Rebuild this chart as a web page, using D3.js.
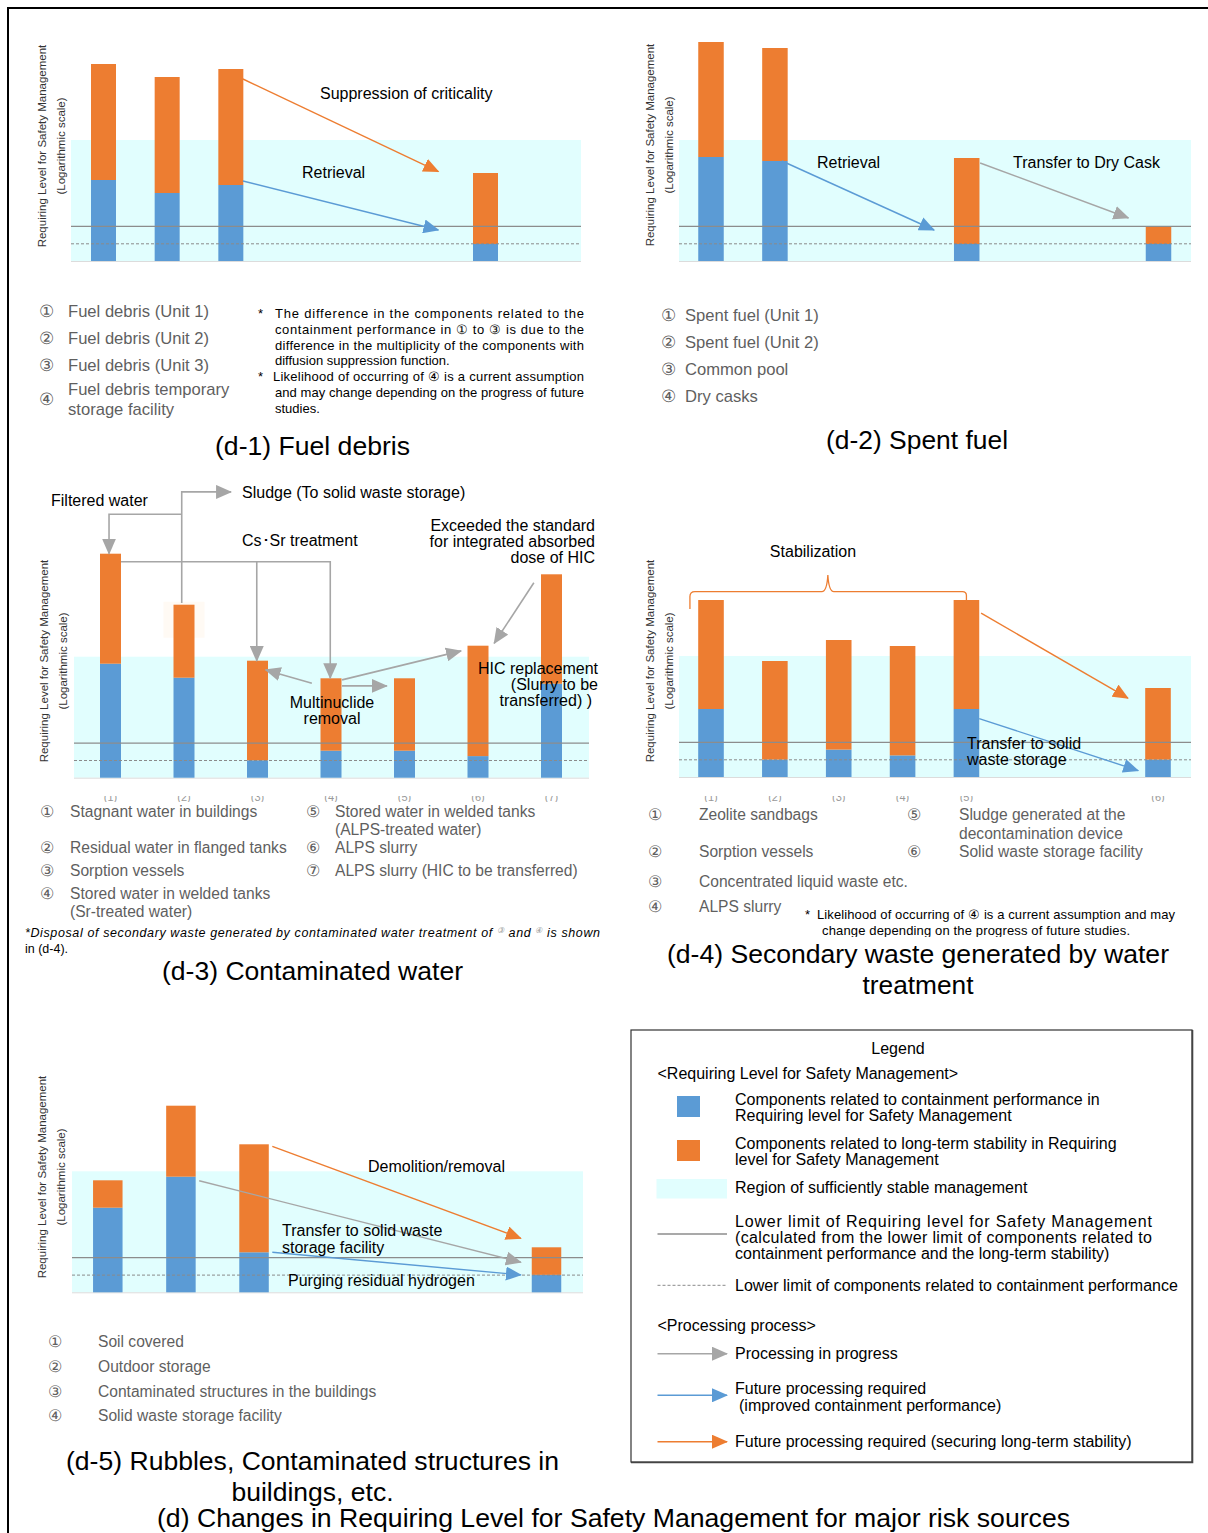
<!DOCTYPE html>
<html><head><meta charset="utf-8">
<script src="https://cdn.jsdelivr.net/npm/d3@7"></script>
<style>
html,body{margin:0;padding:0;background:#fff;}
svg{display:block;}
text{font-family:"Liberation Sans",Arial,sans-serif;}
</style></head><body>
<svg id="c" width="1208" height="1533"></svg>
<script>
// ================= DATA (levels, arbitrary log units) =================
const circledNumbers = ['①','②','③','④','⑤','⑥','⑦'];
const stableRegionTop = 6.05;        // upper edge of "region of sufficiently stable management"
const safetyLowerLimit = 1.73;       // lower limit of requiring level (solid line)
const containmentLowerLimit = 0.86;  // lower limit of containment components (dashed line)

// (d-1) Fuel debris
const d1Categories = ['Fuel debris (Unit 1)', 'Fuel debris (Unit 2)', 'Fuel debris (Unit 3)', 'Fuel debris temporary\nstorage facility'];
const d1Containment = [4.05, 3.4, 3.8, 0.85];
const d1Stability = [5.8, 5.8, 5.8, 3.55];

// (d-2) Spent fuel
const d2Categories = ['Spent fuel (Unit 1)', 'Spent fuel (Unit 2)', 'Common pool', 'Dry casks'];
const d2Containment = [5.2, 5.0, 0.85, 0.85];
const d2Stability = [5.75, 5.65, 4.3, 0.85];

// (d-3) Contaminated water
const d3Categories = ['Stagnant water in buildings', 'Residual water in flanged tanks', 'Sorption vessels',
  'Stored water in welded tanks\n(Sr-treated water)', 'Stored water in welded tanks\n(ALPS-treated water)',
  'ALPS slurry', 'ALPS slurry (HIC to be transferred)'];
const d3Containment = [5.7, 5.0, 0.87, 1.35, 1.35, 1.08, 4.7];
const d3Stability = [5.5, 3.65, 4.98, 3.62, 3.62, 5.52, 5.47];

// (d-4) Secondary waste generated by water treatment
const d4Categories = ['Zeolite sandbags', 'Sorption vessels', 'Concentrated liquid waste etc.', 'ALPS slurry',
  'Sludge generated at the\ndecontamination device', 'Solid waste storage facility'];
const d4Containment = [3.4, 0.87, 1.37, 1.08, 3.4, 0.87];
const d4Stability = [5.45, 4.93, 5.48, 5.47, 5.45, 3.58];

// (d-5) Rubbles, contaminated structures
const d5Categories = ['Soil covered', 'Outdoor storage', 'Contaminated structures in the buildings', 'Solid waste storage facility'];
const d5Containment = [4.23, 5.78, 2.0, 0.87];
const d5Stability = [1.37, 3.55, 5.4, 1.38];

const panelTitles = {
  d1: ['(d-1) Fuel debris'],
  d2: ['(d-2) Spent fuel'],
  d3: ['(d-3) Contaminated water'],
  d4: ['(d-4) Secondary waste generated by water', 'treatment'],
  d5: ['(d-5) Rubbles, Contaminated structures in', 'buildings, etc.']
};
const figureCaption = '(d) Changes in Requiring Level for Safety Management for major risk sources';
const axisLabel = ['Requiring Level for Safety Management', '(Logarithmic scale)'];

// ================= DRAWING =================
const COLORS = {blue:'#5B9BD5', orange:'#ED7D31', grey:'#A6A6A6', cyan:'#E1FEFE', list:'#5f5f5f'};
const svg = d3.select('#c');
const defs = svg.append('defs');
['blue','orange','grey'].forEach(k => {
  defs.append('marker').attr('id','ah-'+k).attr('markerUnits','userSpaceOnUse')
    .attr('viewBox','0 0 16 14').attr('markerWidth',16).attr('markerHeight',14)
    .attr('refX',15).attr('refY',7).attr('orient','auto')
    .append('path').attr('d','M0,0L16,7L0,14Z').attr('fill',COLORS[k]);
});

function txt(g, x, y, s, o = {}) {
  const t = g.append('text').attr('x',x).attr('y',y).attr('dy','0.35em')
    .attr('font-size',o.size || 16).attr('fill',o.fill || '#000')
    .attr('text-anchor',o.anchor || 'start');
  if (o.family) t.attr('font-family',o.family);
  if (o.style) t.attr('font-style',o.style);
  if (o.len) t.attr('textLength',o.len).attr('lengthAdjust',o.adj || 'spacing');
  t.text(s);
  return t;
}

// outer frame
svg.append('line').attr('x1',8).attr('x2',8).attr('y1',7.5).attr('y2',1533).attr('stroke','#000').attr('stroke-width',2);
svg.append('line').attr('x1',7).attr('x2',1208).attr('y1',8).attr('y2',8).attr('stroke','#000').attr('stroke-width',2);

const panels = [
  {id:'d1', cats:d1Categories, blue:d1Containment, orange:d1Stability, slots:[0,1,2,6], nSlots:7, c0:103.5, c1:485.5, bw:25, base:261, bx0:71, bx1:581, labelX:[41.5,61], labelY:146},
  {id:'d2', cats:d2Categories, blue:d2Containment, orange:d2Stability, slots:[0,1,4,7], nSlots:8, c0:711, c1:1158.5, bw:25.5, base:261, bx0:679, bx1:1191, labelX:[650,669], labelY:145},
  {id:'d3', cats:d3Categories, blue:d3Containment, orange:d3Stability, slots:[0,1,2,3,4,5,6], nSlots:7, c0:110.5, c1:551.5, bw:21, base:777.7, bx0:74, bx1:589, labelX:[43.5,63], labelY:661},
  {id:'d4', cats:d4Categories, blue:d4Containment, orange:d4Stability, slots:[0,1,2,3,4,7], nSlots:8, c0:711, c1:1158, bw:25.6, base:777, bx0:679, bx1:1191, labelX:[650,669], labelY:661},
  {id:'d5', cats:d5Categories, blue:d5Containment, orange:d5Stability, slots:[0,1,2,6], nSlots:7, c0:107.8, c1:546.5, bw:29.5, base:1292.3, bx0:72, bx1:583, labelX:[41.5,61], labelY:1177}
];
const P = {};
panels.forEach(p => {
  P[p.id] = p;
  const g = svg.append('g');
  const x = d3.scaleLinear().domain([0, p.nSlots - 1]).range([p.c0, p.c1]);
  const y = d3.scaleLinear().domain([0, 10]).range([p.base, p.base - 200]);
  p.x = x; p.y = y; p.g = g;
  g.append('rect').attr('x',p.bx0).attr('y',y(stableRegionTop)).attr('width',p.bx1 - p.bx0)
    .attr('height',y(0) - y(stableRegionTop)).attr('fill',COLORS.cyan);
  g.append('line').attr('x1',p.bx0).attr('x2',p.bx1).attr('y1',y(0) + 0.5).attr('y2',y(0) + 0.5)
    .attr('stroke','#dcdcdc').attr('stroke-width',1);
  const rows = p.cats.map((c, i) => ({cat:c, slot:p.slots[i], containment:p.blue[i], stability:p.orange[i]}));
  if (p.id === 'd3') {
    // faint glow around the top of bar 2 as in the source image
    const r = rows[1], top = y(r.containment + r.stability);
    g.append('rect').attr('x', x(r.slot) - p.bw / 2 - 10).attr('y', top - 3).attr('width', p.bw + 20).attr('height', 36)
      .attr('fill', '#FFFAF4');
  }
  const stacked = d3.stack().keys(['containment','stability'])(rows);
  g.selectAll('g.layer').data(stacked).join('g').attr('class','layer')
    .attr('fill', d => d.key === 'containment' ? COLORS.blue : COLORS.orange)
    .selectAll('rect').data(d => d).join('rect')
    .attr('x', d => x(d.data.slot) - p.bw / 2).attr('width', p.bw)
    .attr('y', d => y(d[1])).attr('height', d => y(d[0]) - y(d[1]));
  g.append('line').attr('x1',p.bx0).attr('x2',p.bx1).attr('y1',y(safetyLowerLimit)).attr('y2',y(safetyLowerLimit))
    .attr('stroke','#8c8c8c').attr('stroke-width',1.3);
  g.append('line').attr('x1',p.bx0).attr('x2',p.bx1).attr('y1',y(containmentLowerLimit)).attr('y2',y(containmentLowerLimit))
    .attr('stroke','#8a8a8a').attr('stroke-width',1).attr('stroke-dasharray','3,2');
  axisLabel.forEach((s, i) => {
    const lg = g.append('g').attr('transform',`translate(${p.labelX[i]},${p.labelY}) rotate(-90)`);
    txt(lg, 0, 0, s, {size:11.5, fill:'#333', anchor:'middle'});
  });
});

function arrow(p, pts, color, w) {
  const line = d3.line().x(d => p.x(d[0])).y(d => p.y(d[1]));
  p.g.append('path').attr('d', line(pts)).attr('fill','none').attr('stroke', COLORS[color])
    .attr('stroke-width', w || 1.4).attr('marker-end', `url(#ah-${color})`);
}

// ---- d-1 annotations ----
arrow(P.d1, [[2.19, 9.1], [5.26, 4.47]], 'orange');
arrow(P.d1, [[2.19, 4.0], [5.26, 1.55]], 'blue');
txt(P.d1.g, 320, 93, 'Suppression of criticality');
txt(P.d1.g, 302, 172, 'Retrieval');

// ---- d-2 annotations ----
arrow(P.d2, [[1.11, 5.0], [3.49, 1.55]], 'blue');
arrow(P.d2, [[4.21, 4.9], [6.53, 2.15]], 'grey');
txt(P.d2.g, 817, 162.5, 'Retrieval');
txt(P.d2.g, 1013, 162.5, 'Transfer to Dry Cask');

// ---- d-3 annotations ----
arrow(P.d3, [[0.969, 8.74], [0.969, 14.29], [1.64, 14.29]], 'grey', 1.6);
arrow(P.d3, [[0.969, 13.17], [-0.02, 13.17], [-0.02, 11.2]], 'grey', 1.6);
arrow(P.d3, [[0.143, 10.8], [2.99, 10.8], [2.99, 4.97]], 'grey', 1.6);
arrow(P.d3, [[1.99, 10.8], [1.99, 5.84]], 'grey', 1.6);
arrow(P.d3, [[2.74, 4.72], [2.11, 5.39]], 'grey', 1.6);
arrow(P.d3, [[3.15, 4.59], [3.76, 4.59]], 'grey', 1.6);
arrow(P.d3, [[3.15, 4.89], [4.77, 6.34]], 'grey', 1.6);
arrow(P.d3, [[5.76, 9.75], [5.22, 6.72]], 'grey', 1.6);
txt(P.d3.g, 51, 500.5, 'Filtered water');
txt(P.d3.g, 242, 492, 'Sludge (To solid waste storage)');
txt(P.d3.g, 242, 540.5, 'Cs･Sr treatment');
txt(P.d3.g, 595, 525.7, 'Exceeded the standard', {anchor:'end'});
txt(P.d3.g, 595, 541.7, 'for integrated absorbed', {anchor:'end'});
txt(P.d3.g, 595, 557.7, 'dose of HIC', {anchor:'end'});
txt(P.d3.g, 332, 702.3, 'Multinuclide', {anchor:'middle'});
txt(P.d3.g, 332, 718.7, 'removal', {anchor:'middle'});
txt(P.d3.g, 598, 668.7, 'HIC replacement', {anchor:'end'});
txt(P.d3.g, 598, 684.7, '(Slurry to be', {anchor:'end'});
txt(P.d3.g, 592, 700.7, 'transferred) )', {anchor:'end'});

// ---- d-4 annotations ----
{
  const p = P.d4, x = p.x, y = p.y;
  const L = x(-0.33), R = x(4.0), M = x(1.83), yb = y(9.27), yt = y(10.1), yl = y(8.4), yr = y(8.85);
  const path = d3.path();
  path.moveTo(L, yl); path.lineTo(L, yb + 5); path.quadraticCurveTo(L, yb, L + 5, yb);
  path.lineTo(M - 6, yb); path.quadraticCurveTo(M - 1, yb, M, yt);
  path.quadraticCurveTo(M + 1, yb, M + 6, yb); path.lineTo(R - 4, yb);
  path.quadraticCurveTo(R, yb, R, yb + 4); path.lineTo(R, yr);
  p.g.append('path').attr('d', path.toString()).attr('fill','none').attr('stroke',COLORS.orange).attr('stroke-width',1.3);
  arrow(p, [[4.23, 8.19], [6.53, 3.94]], 'orange');
  arrow(p, [[4.20, 2.92], [6.69, 0.32]], 'blue');
  txt(p.g, 813, 551.7, 'Stabilization', {anchor:'middle'});
  txt(p.g, 967, 743.3, 'Transfer to solid');
  txt(p.g, 967, 759.3, 'waste storage');
}

// ---- d-5 annotations ----
arrow(P.d5, [[2.25, 7.3], [5.65, 2.7]], 'orange');
arrow(P.d5, [[1.25, 5.58], [5.65, 1.5]], 'grey');
arrow(P.d5, [[2.25, 2.0], [5.65, 0.87]], 'blue');
txt(P.d5.g, 368, 1166, 'Demolition/removal');
txt(P.d5.g, 282, 1230.3, 'Transfer to solid waste');
txt(P.d5.g, 282, 1247.3, 'storage facility');
txt(P.d5.g, 288, 1280, 'Purging residual hydrogen');

// ---- cut-off category marks under d-3 and d-4 ----
defs.append('clipPath').attr('id','cutMarks').append('rect').attr('x',0).attr('y',796).attr('width',1208).attr('height',6);
['d3','d4'].forEach(id => {
  const p = P[id];
  const gm = svg.append('g').attr('clip-path','url(#cutMarks)');
  p.slots.forEach((s, i) => {
    gm.append('text').attr('x', p.x(s)).attr('y', 801).attr('text-anchor','middle')
      .attr('font-size',11).attr('fill','#999').text('(' + (i + 1) + ')');
  });
});

// ---- category lists ----
const CJK = '"Noto Sans CJK JP","Noto Sans",sans-serif';
function catList(p, layout, size) {
  p.cats.forEach((c, i) => {
    const L = layout[i];
    const lines = c.split('\n');
    txt(p.g, L.nx, L.ny !== undefined ? L.ny : L.y, circledNumbers[i], {size:size, fill:COLORS.list, family:CJK, anchor:'middle'});
    lines.forEach((s, j) => txt(p.g, L.tx, L.y + j * (L.lh || 19), s, {size:size, fill:COLORS.list, family:CJK}));
  });
}
catList(P.d1, [{nx:46,tx:68,y:311},{nx:46,tx:68,y:338},{nx:46,tx:68,y:365},{nx:46,tx:68,y:389,ny:399,lh:20}], 16.6);
catList(P.d2, [{nx:668,tx:685,y:315},{nx:668,tx:685,y:342},{nx:668,tx:685,y:369},{nx:668,tx:685,y:396}], 16.6);
catList(P.d3, [{nx:47,tx:70,y:812},{nx:47,tx:70,y:848},{nx:47,tx:70,y:871},{nx:47,tx:70,y:894,lh:18},
  {nx:313,tx:335,y:812,lh:18},{nx:313,tx:335,y:848},{nx:313,tx:335,y:871}], 15.6);
catList(P.d4, [{nx:655,tx:699,y:815},{nx:655,tx:699,y:852},{nx:655,tx:699,y:882},{nx:655,tx:699,y:907},
  {nx:914,tx:959,y:815,lh:19},{nx:914,tx:959,y:852}], 15.6);
catList(P.d5, [{nx:55,tx:98,y:1342},{nx:55,tx:98,y:1367},{nx:55,tx:98,y:1392},{nx:55,tx:98,y:1416}], 15.6);

// ---- notes ----
{
  const g = P.d1.g, o = {size:13};
  txt(g, 258, 313, '*', o);
  txt(g, 275, 313, 'The difference in the components related to the', {size:13, len:309});
  txt(g, 275, 329, 'containment performance in ① to ③ is due to the', {size:13, len:309});
  txt(g, 275, 345, 'difference in the multiplicity of the components with', {size:13, len:309});
  txt(g, 275, 360.5, 'diffusion suppression function.', o);
  txt(g, 258, 376, '*', o);
  txt(g, 273, 376.5, 'Likelihood of occurring of ④ is a current assumption', {size:13, len:311});
  txt(g, 275, 392.5, 'and may change depending on the progress of future', {size:13, len:309});
  txt(g, 275, 408, 'studies.', o);
}
{
  const g = P.d3.g;
  const t = g.append('text').attr('x',25).attr('y',933).attr('dy','0.35em').attr('font-size',12.5)
    .attr('font-style','italic').attr('textLength',575).attr('lengthAdjust','spacing');
  t.append('tspan').text('*Disposal of secondary waste generated by contaminated water treatment of ');
  t.append('tspan').attr('font-size',8).attr('fill','#999').attr('dy',-4).text('③');
  t.append('tspan').attr('dy',4).text(' and ');
  t.append('tspan').attr('font-size',8).attr('fill','#999').attr('dy',-4).text('④');
  t.append('tspan').attr('dy',4).text(' is shown');
  txt(g, 25, 949, 'in (d-4).', {size:12.5});
}
{
  const g = P.d4.g;
  defs.append('clipPath').attr('id','noteClip').append('rect').attr('x',620).attr('y',900).attr('width',588).attr('height',37);
  const gc = g.append('g').attr('clip-path','url(#noteClip)');
  txt(gc, 805, 914, '*', {size:13});
  txt(gc, 817, 914.5, 'Likelihood of occurring of ④ is a current assumption and may', {size:13, len:358});
  txt(gc, 822, 930.5, 'change depending on the progress of future studies.', {size:13, len:308});
}

// ---- panel titles ----
const titlePos = {d1:[312.5,446], d2:[917,440], d3:[312.5,971], d4:[918,954], d5:[312.5,1461]};
const titleWidths = {d1:[195], d2:[182], d3:[301], d4:[502,111], d5:[493,162]};
Object.keys(panelTitles).forEach(k => {
  panelTitles[k].forEach((s, i) => txt(svg, titlePos[k][0], titlePos[k][1] + i * 31.5, s,
    {size:25.5, anchor:'middle', len:titleWidths[k][i], adj:'spacingAndGlyphs'}));
});
txt(svg, 613.5, 1518.5, figureCaption, {size:25.5, anchor:'middle', len:913, adj:'spacingAndGlyphs'});

// ---- legend box ----
{
  const g = svg.append('g');
  g.append('rect').attr('x',631).attr('y',1030).attr('width',561).attr('height',432).attr('fill','#fff')
    .attr('stroke','#333').attr('stroke-width',1.2);
  g.append('path').attr('d','M1192.5,1030 V1462.5 H631').attr('fill','none').attr('stroke','#444').attr('stroke-width',1.6);
  txt(g, 898, 1048.3, 'Legend', {anchor:'middle'});
  txt(g, 657.5, 1073.3, '<Requiring Level for Safety Management>');
  g.append('rect').attr('x',677).attr('y',1096).attr('width',23).attr('height',21).attr('fill',COLORS.blue);
  txt(g, 735, 1099.7, 'Components related to containment performance in');
  txt(g, 735, 1115.7, 'Requiring level for Safety Management');
  g.append('rect').attr('x',677).attr('y',1140).attr('width',23).attr('height',21).attr('fill',COLORS.orange);
  txt(g, 735, 1143.7, 'Components related to long-term stability in Requiring');
  txt(g, 735, 1159.7, 'level for Safety Management');
  g.append('rect').attr('x',656.5).attr('y',1179).attr('width',70.5).attr('height',19.5).attr('fill',COLORS.cyan);
  txt(g, 735, 1187.7, 'Region of sufficiently stable management');
  g.append('line').attr('x1',657.5).attr('x2',727).attr('y1',1234).attr('y2',1234).attr('stroke','#8c8c8c').attr('stroke-width',1.3);
  txt(g, 735, 1221.7, 'Lower limit of Requiring level for Safety Management', {len:417});
  txt(g, 735, 1237.7, '(calculated from the lower limit of components related to', {len:417});
  txt(g, 735, 1253.7, 'containment performance and the long-term stability)');
  g.append('line').attr('x1',657.5).attr('x2',727).attr('y1',1285.3).attr('y2',1285.3).attr('stroke','#8a8a8a')
    .attr('stroke-width',1).attr('stroke-dasharray','3,2');
  txt(g, 735, 1285.3, 'Lower limit of components related to containment performance');
  txt(g, 657.5, 1325, '<Processing process>');
  [['grey',1353.7],['blue',1395.3],['orange',1441.7]].forEach(([c, yy]) => {
    g.append('line').attr('x1',657.5).attr('x2',727).attr('y1',yy).attr('y2',yy).attr('stroke',COLORS[c])
      .attr('stroke-width',1.6).attr('marker-end',`url(#ah-${c})`);
  });
  txt(g, 735, 1353.7, 'Processing in progress');
  txt(g, 735, 1388.3, 'Future processing required');
  txt(g, 739, 1405, '(improved containment performance)');
  txt(g, 735, 1441.7, 'Future processing required (securing long-term stability)');
}
</script>
</body></html>
